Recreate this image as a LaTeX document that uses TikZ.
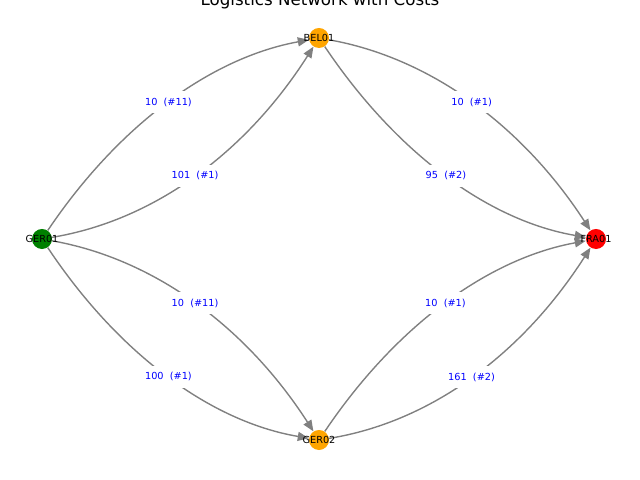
\documentclass[tikz,border=0pt]{standalone}
\usepackage{fontspec}
\setmainfont{DejaVu Sans}
\usetikzlibrary{arrows.meta,calc}
\pgfdeclarelayer{background}
\pgfsetlayers{background,main}
\definecolor{sitegreen}{RGB}{0,128,0}
\definecolor{siteorange}{RGB}{255,165,0}
\definecolor{sitered}{RGB}{255,0,0}
\definecolor{flowgray}{RGB}{128,128,128}
\definecolor{costblue}{RGB}{0,0,255}
\tikzset{
  site/.style={circle,minimum size=14.4bp,inner sep=0pt},
  every label/.style={font=\fontsize{7bp}{8bp}\selectfont,inner sep=0pt},
  flow/.style={draw=flowgray,line width=1bp,-{Triangle[length=8bp,width=6.5bp]}},
  cost/.style={fill=white,text=costblue,font=\fontsize{7bp}{8bp}\selectfont,inner xsep=2bp,minimum height=16bp}
}
\begin{document}
\begin{tikzpicture}[x=0.01in,y=-0.01in]
\useasboundingbox (0,0) rectangle (640,480);
\clip (0,0) rectangle (640,480);
\node[anchor=base,font=\fontsize{12bp}{14bp}\selectfont] (title) at (320,6) {Logistics Network with Costs};
\node[site,fill=sitegreen,label=center:GER01] (GER01) at (42,239) {};
\node[site,fill=siteorange,label=center:BEL01] (BEL01) at (319,38) {};
\node[site,fill=siteorange,label=center:GER02] (GER02) at (319,440) {};
\node[site,fill=sitered,label=center:FRA01] (FRA01) at (596,239) {};
\begin{pgfonlayer}{background}
% GER01 -> BEL01
\draw[flow] (GER01) .. controls ($(GER01)!2/3!(157.5,67.5)$) and ($(BEL01)!2/3!(157.5,67.5)$) .. (BEL01) node[cost,midway] (c1) {10\ \ (\#11)};
\draw[flow] (GER01) .. controls ($(GER01)!2/3!(208.5,211.5)$) and ($(BEL01)!2/3!(208.5,211.5)$) .. (BEL01) node[cost,midway] (c2) {101\ \ (\#1)};
% BEL01 -> FRA01
\draw[flow] (BEL01) .. controls ($(BEL01)!2/3!(484.5,67.5)$) and ($(FRA01)!2/3!(484.5,67.5)$) .. (FRA01) node[cost,midway] (c3) {10\ \ (\#1)};
\draw[flow] (BEL01) .. controls ($(BEL01)!2/3!(435.5,211.5)$) and ($(FRA01)!2/3!(435.5,211.5)$) .. (FRA01) node[cost,midway] (c4) {95\ \ (\#2)};
% GER01 -> GER02
\draw[flow] (GER01) .. controls ($(GER01)!2/3!(208.5,268.5)$) and ($(GER02)!2/3!(208.5,268.5)$) .. (GER02) node[cost,midway] (c5) {10\ \ (\#11)};
\draw[flow] (GER01) .. controls ($(GER01)!2/3!(157.5,412.5)$) and ($(GER02)!2/3!(157.5,412.5)$) .. (GER02) node[cost,midway] (c6) {100\ \ (\#1)};
% GER02 -> FRA01
\draw[flow] (GER02) .. controls ($(GER02)!2/3!(434.5,268.5)$) and ($(FRA01)!2/3!(434.5,268.5)$) .. (FRA01) node[cost,midway] (c7) {10\ \ (\#1)};
\draw[flow] (GER02) .. controls ($(GER02)!2/3!(484.5,413.5)$) and ($(FRA01)!2/3!(484.5,413.5)$) .. (FRA01) node[cost,midway] (c8) {161\ \ (\#2)};
\end{pgfonlayer}
\end{tikzpicture}
\end{document}
